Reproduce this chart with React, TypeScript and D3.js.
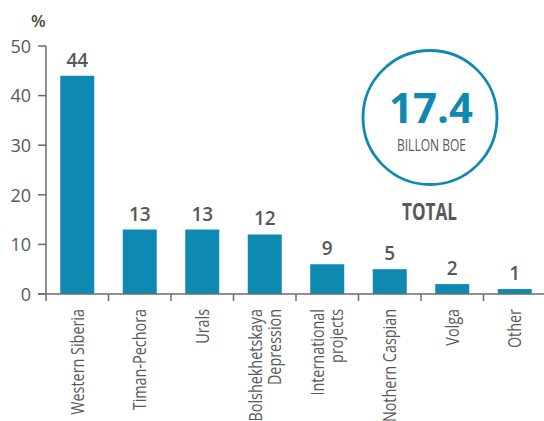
import React from "react";
import * as d3 from "d3";

const categories: string[][] = [
  ["Western Siberia"],
  ["Timan-Pechora"],
  ["Urals"],
  ["Bolshekhetskaya", "Depression"],
  ["International", "projects"],
  ["Nothern Caspian"],
  ["Volga"],
  ["Other"],
];
const barValues = [44, 13, 13, 12, 6, 5, 2, 1];
const valueLabels = ["44", "13", "13", "12", "9", "5", "2", "1"];
const yTicks = [0, 10, 20, 30, 40, 50];
const totalValue = "17.4";
const totalUnit = "BILLON BOE";
const totalLabel = "TOTAL";

const W = 544;
const H = 421;
const BLUE = "#0e8ab2";
const GREY = "#585858";
const AXIS = "#6b6b6b";
const FONT = "'Open Sans', 'Noto Sans', sans-serif";

export default function App() {
  const x = d3
    .scaleBand<number>()
    .domain(d3.range(categories.length))
    .range([46, 546])
    .paddingInner(0.456)
    .paddingOuter(0.228);
  const y = d3.scaleLinear().domain([0, 50]).range([294, 46]);
  const step = x.step();
  const bandStarts = d3.range(categories.length).map((i) => 46 + i * step);

  return (
    <svg
      width={W}
      height={H}
      style={{ position: "absolute", left: 0, top: 0, background: "#fff" }}
    >
      {/* bars */}
      {barValues.map((v, i) => (
        <rect
          key={i}
          x={x(i)}
          y={y(v)}
          width={x.bandwidth()}
          height={y(0) - y(v)}
          fill={BLUE}
        />
      ))}
      {/* value labels */}
      {barValues.map((v, i) => (
        <text
          key={i}
          x={(x(i) as number) + x.bandwidth() / 2}
          y={y(v) - 9}
          textAnchor="middle"
          fontFamily={FONT}
          fontSize={19}
          fontWeight={600}
          fill={GREY}
        >
          {valueLabels[i]}
        </text>
      ))}
      {/* y axis */}
      <line x1={46} x2={46} y1={y(50)} y2={y(0)} stroke={AXIS} strokeWidth={1.5} />
      {yTicks.map((t) => (
        <g key={t}>
          <line x1={38} x2={46} y1={y(t)} y2={y(t)} stroke={AXIS} strokeWidth={1.5} />
          <text
            x={31}
            y={y(t)}
            dy="0.38em"
            textAnchor="end"
            fontFamily={FONT}
            fontSize={18}
            fill={GREY}
          >
            {t}
          </text>
        </g>
      ))}
      <text x={31} y={27} fontFamily={FONT} fontSize={17} fontWeight={600} fill="#4a4a3a">
        %
      </text>
      {/* x axis */}
      <line x1={38} x2={W} y1={y(0)} y2={y(0)} stroke={AXIS} strokeWidth={1.5} />
      {bandStarts.map((bx, i) => (
        <line key={i} x1={bx} x2={bx} y1={y(0)} y2={y(0) + 7} stroke={AXIS} strokeWidth={1.5} />
      ))}
      {categories.map((lines, i) => {
        const cx = (x(i) as number) + x.bandwidth() / 2;
        const n = lines.length;
        return (
          <g key={i}>
            {lines.map((ln, j) => {
              const off = (j - (n - 1) / 2) * 19;
              return (
                <text
                  key={j}
                  transform={`translate(${cx + off},309) rotate(-90) scale(0.8,1)`}
                  dy="0.36em"
                  textAnchor="end"
                  fontFamily={FONT}
                  fontSize={18}
                  fill={GREY}
                >
                  {ln}
                </text>
              );
            })}
          </g>
        );
      })}
      {/* total circle */}
      <circle cx={430} cy={117.5} r={67} fill="none" stroke={BLUE} strokeWidth={2.8} />
      <text
        x={431}
        y={123}
        textAnchor="middle"
        fontFamily={FONT}
        fontSize={42}
        fontWeight={700}
        fill={BLUE}
      >
        {totalValue}
      </text>
      <text
        x={431.5}
        y={151}
        textAnchor="middle"
        fontFamily={FONT}
        fontSize={15.5}
        fill={GREY}
        textLength={69}
        lengthAdjust="spacingAndGlyphs"
      >
        {totalUnit}
      </text>
      <text
        x={429.5}
        y={220}
        textAnchor="middle"
        fontFamily={FONT}
        fontSize={23.5}
        fontWeight={700}
        fill={GREY}
        textLength={55}
        lengthAdjust="spacingAndGlyphs"
      >
        {totalLabel}
      </text>
    </svg>
  );
}
